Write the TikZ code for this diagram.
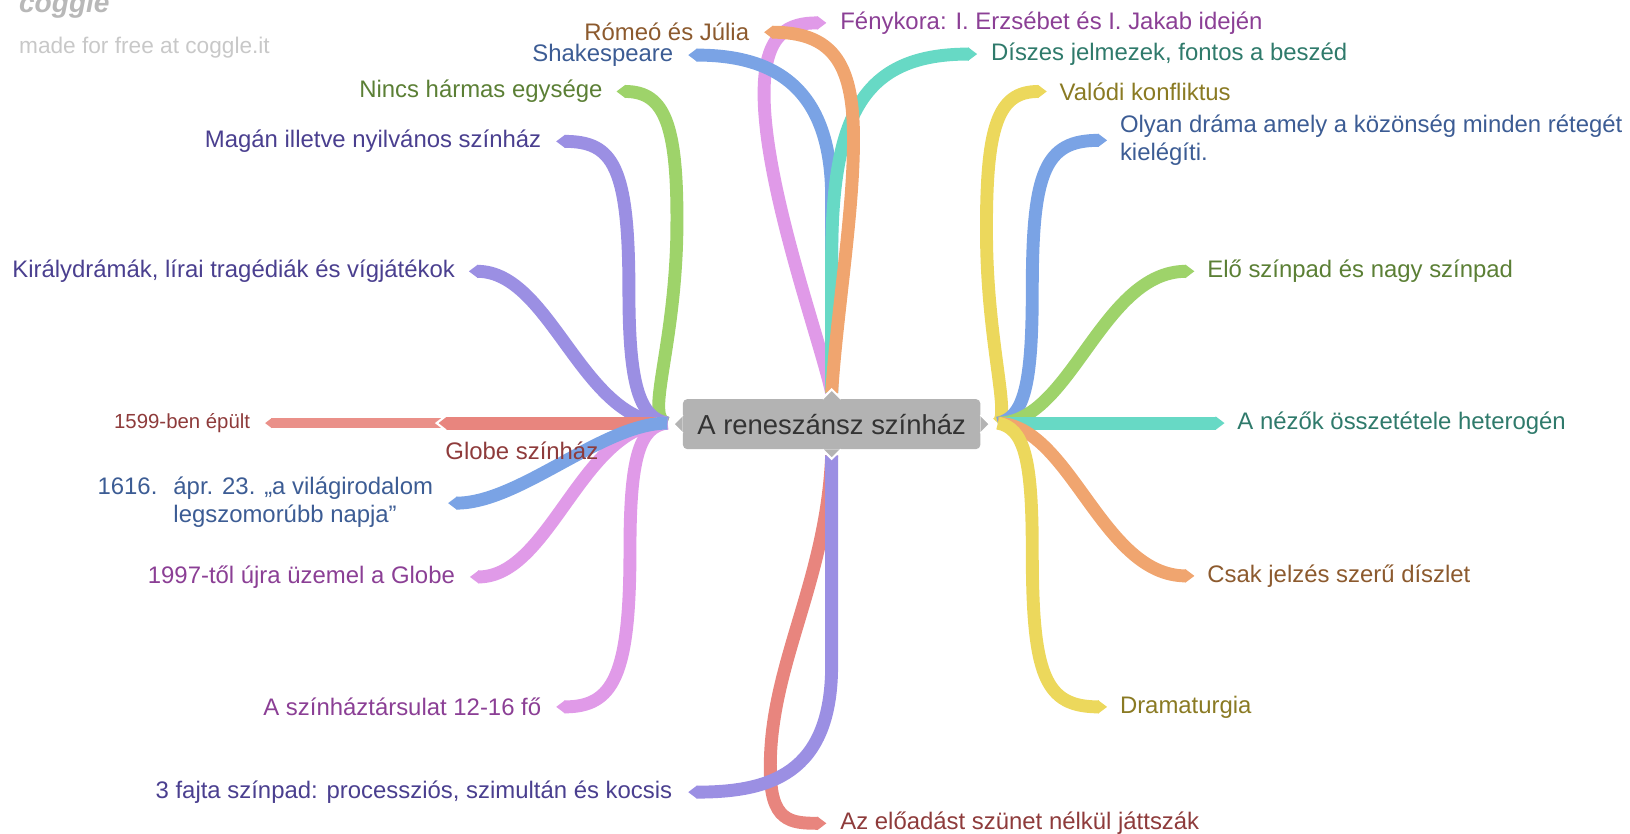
\documentclass[tikz,border=0pt]{standalone}
\usepackage{fontspec}
\setmainfont{Liberation Sans}
\usetikzlibrary{arrows.meta,positioning}
\definecolor{brgreen}{HTML}{9ED36A}
\definecolor{brpurple}{HTML}{9B8FE3}
\definecolor{brred}{HTML}{E8857E}
\definecolor{brredlt}{HTML}{EA9089}
\definecolor{brblue}{HTML}{7AA3E5}
\definecolor{brpink}{HTML}{E09AE8}
\definecolor{brorange}{HTML}{F0A56F}
\definecolor{brteal}{HTML}{67D9C5}
\definecolor{bryellow}{HTML}{ECD85C}
\definecolor{txgreen}{HTML}{5B7F35}
\definecolor{txpurple}{HTML}{4A3F8F}
\definecolor{txred}{HTML}{8E3B3B}
\definecolor{txblue}{HTML}{3C5C94}
\definecolor{txpink}{HTML}{8B3F95}
\definecolor{txorange}{HTML}{8C5A2E}
\definecolor{txteal}{HTML}{2F7A6B}
\definecolor{txyellow}{HTML}{8A7A23}
\definecolor{ctrgray}{HTML}{B3B3B3}
\definecolor{ctrtext}{HTML}{333333}
\definecolor{wmgray}{HTML}{C8C8C8}
\tikzset{
  branch/.style={line width=6.2pt,-{Triangle[length=0pt 0.7,width=0pt 1]}},
  subbranch/.style={line width=4.6pt,-{Triangle[length=0pt 0.7,width=0pt 1]}},
  lbl/.style={font=\fontsize{11.5}{13.5}\selectfont,inner sep=0pt},
  lblsmall/.style={font=\fontsize{9.8}{11}\selectfont,inner sep=0pt},
  tab/.style={fill=ctrgray,draw=white,line width=1pt},
}
\begin{document}
\begin{tikzpicture}[x=0.5pt,y=-0.5pt]
\useasboundingbox (0,0) rectangle (1568,802);
%watermark
\node[anchor=west,inner sep=0pt,text=wmgray!92!black,font=\fontsize{13.5}{13.5}\selectfont\bfseries\itshape] (logo) at (18,5) {coggle};
\node[anchor=west,inner sep=0pt,text=wmgray,font=\fontsize{10.9}{12}\selectfont] (made) at (18,46) {made for free at coggle.it};
%attach points of the centre
\coordinate (L) at (642,407); \coordinate (R) at (960,407);
\coordinate (T) at (800,378); \coordinate (B) at (800,438);
%left branches
\coordinate (nincs-end) at (593,88);
\draw[branch,brgreen] (L) .. controls (620,404) and (648,340) .. (651,230) .. controls (653,120) and (640,88) .. (nincs-end);
\node[lbl,anchor=east,text=txgreen] (nincs) at (580,88) {Nincs hármas egysége};
\coordinate (magan-end) at (535,136);
\draw[branch,brpurple] (L) .. controls (615,402) and (605,370) .. (605,280) .. controls (605,160) and (590,136) .. (magan-end);
\node[lbl,anchor=east,text=txpurple] (magan) at (521,136) {Magán illetve nyilvános színház};
\coordinate (kiraly-end) at (451,261);
\draw[branch,brpurple] (L) .. controls (560,407) and (530,261) .. (kiraly-end);
\node[lbl,anchor=east,text=txpurple] (kiraly) at (438,261) {Királydrámák, lírai tragédiák és vígjátékok};
%globe and its child
\coordinate (globe-end) at (420,407); \coordinate (epult-start) at (432,407);
\coordinate (epult-end) at (255,407);
\draw[subbranch,brredlt] (epult-start) -- (epult-end);
\draw[branch,brred] (L) -- (globe-end);
\draw[white,line width=1pt] (429,400) -- (420,407) -- (429,414);
\node[lblsmall,anchor=east,text=txred] (epult) at (241,407) {1599-ben épült};
%
\coordinate (ujra-end) at (452,555);
\draw[branch,brpink] (L) .. controls (560,407) and (530,555) .. (ujra-end);
\node[lbl,anchor=east,text=txpink] (ujra) at (438,555) {1997-től újra üzemel a Globe};
\coordinate (tarsulat-end) at (535,680);
\draw[branch,brpink] (L) .. controls (615,410) and (606,440) .. (606,530) .. controls (606,650) and (590,680) .. (tarsulat-end);
\node[lbl,anchor=east,text=txpink] (tarsulat) at (521,680) {A színháztársulat 12-16 fő};
\coordinate (halal-end) at (431,484);
\draw[branch,brblue] (L) .. controls (580,407) and (500,484) .. (halal-end);
\node[lbl,anchor=east,text=txblue,align=left] (halal) at (417,483) {\makebox[36.5pt][l]{1616.}ápr. 23. „a világirodalom\\\hspace*{36.5pt}legszomorúbb napja”};
\node[lbl,text=txred] (globe) at (502,434) {Globe színház};
%bottom branches
\coordinate (szunet-end) at (795,792);
\draw[branch,brred] (B) .. controls (795,560) and (740,640) .. (741,740) .. controls (741,790) and (760,792) .. (szunet-end);
\node[lbl,anchor=west,text=txred] (szunet) at (808,792) {Az előadást szünet nélkül játtszák};
\coordinate (szinpad-end) at (662,762);
\draw[branch,brpurple] (B) -- (800,640) .. controls (800,745) and (740,762) .. (szinpad-end);
\node[lbl,anchor=east,text=txpurple] (szinpad) at (647,762) {3 fajta színpad: processziós, szimultán és kocsis};
%top branches
\coordinate (fenykor-end) at (795,22);
\draw[branch,brpink] (T) .. controls (790,330) and (735,180) .. (735,90) .. controls (735,30) and (760,22) .. (fenykor-end);
\node[lbl,anchor=west,text=txpink] (fenykor) at (808,22) {Fénykora: I. Erzsébet és I. Jakab idején};
\coordinate (shakes-end) at (662,53);
\draw[branch,brblue] (T) -- (800,190) .. controls (800,80) and (740,53) .. (shakes-end);
\node[lbl,anchor=east,text=txblue] (shakes) at (648,53) {Shakespeare};
\coordinate (diszes-end) at (940,52);
\draw[branch,brteal] (T) -- (800,250) .. controls (800,110) and (830,52) .. (diszes-end);
\node[lbl,anchor=west,text=txteal] (diszes) at (953,52) {Díszes jelmezek, fontos a beszéd};
\coordinate (romeo-end) at (735,31);
\draw[branch,brorange] (T) .. controls (805,300) and (822,200) .. (821,128) .. controls (820,60) and (800,31) .. (romeo-end);
\node[lbl,anchor=east,text=txorange] (romeo) at (721,31) {Rómeó és Júlia};
%right branches
\coordinate (valodi-end) at (1007,88);
\draw[branch,bryellow] (R) .. controls (972,400) and (950,330) .. (949,230) .. controls (948,120) and (960,88) .. (valodi-end);
\node[lbl,anchor=west,text=txyellow] (valodi) at (1019,88) {Valódi konfliktus};
\coordinate (olyan-end) at (1065,135);
\draw[branch,brblue] (R) .. controls (985,402) and (993,370) .. (993,280) .. controls (993,165) and (1005,135) .. (olyan-end);
\node[lbl,anchor=west,text=txblue,align=left] (olyan) at (1077,135) {Olyan dráma amely a közönség minden rétegét\\kielégíti.};
\coordinate (elo-end) at (1149,261);
\draw[branch,brgreen] (R) .. controls (1030,407) and (1060,261) .. (elo-end);
\node[lbl,anchor=west,text=txgreen] (elo) at (1161,261) {Elő színpad és nagy színpad};
\coordinate (nezok-end) at (1178,407);
\draw[branch,brteal] (R) -- (nezok-end);
\node[lbl,anchor=west,text=txteal] (nezok) at (1190,407) {A nézők összetétele heterogén};
\coordinate (csak-end) at (1149,554);
\draw[branch,brorange] (R) .. controls (1030,410) and (1060,554) .. (csak-end);
\node[lbl,anchor=west,text=txorange] (csak) at (1161,554) {Csak jelzés szerű díszlet};
\coordinate (drama-end) at (1065,680);
\draw[branch,bryellow] (R) .. controls (985,412) and (993,440) .. (993,530) .. controls (993,650) and (1005,680) .. (drama-end);
\node[lbl,anchor=west,text=txyellow] (drama) at (1077,680) {Dramaturgia};
%centre node with its tabs
\node[fill=ctrgray,rounded corners=2pt,minimum width=143pt,minimum height=24pt,inner sep=0pt,
  text=ctrtext,font=\fontsize{13.2}{15}\selectfont] (center) at (800,408) {A reneszánsz színház};
\draw[tab] ([xshift=-4.5pt]center.north) -- ++(9,-9) -- ++(9,9);
\draw[tab] ([xshift=-4.5pt]center.south) -- ++(9,9) -- ++(9,-9);
\draw[tab] ([yshift=4.5pt]center.west) -- ++(-9,9) -- ++(9,9);
\draw[tab] ([yshift=4.5pt]center.east) -- ++(9,9) -- ++(-9,9);
\end{tikzpicture}
\end{document}
